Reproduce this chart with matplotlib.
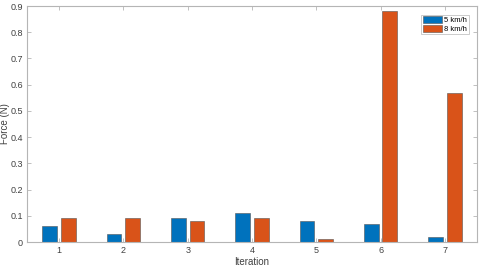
import matplotlib
matplotlib.use("Agg")
import matplotlib.pyplot as plt
import numpy as np

iterations = [1, 2, 3, 4, 5, 6, 7]
force_5kmh = [0.06, 0.03, 0.09, 0.11, 0.08, 0.07, 0.02]
force_8kmh = [0.09, 0.09, 0.08, 0.09, 0.01, 0.88, 0.57]
yticks = [0, 0.1, 0.2, 0.3, 0.4, 0.5, 0.6, 0.7, 0.8, 0.9]
ytick_labels = ["0", "0.1", "0.2", "0.3", "0.4", "0.5", "0.6", "0.7", "0.8", "0.9"]

plt.rcParams['font.family'] = ['Liberation Sans', 'DejaVu Sans']

fig = plt.figure(figsize=(4.8, 2.66), dpi=100)
ax = fig.add_axes([27/480, 1-242/266, 450/480, 236/266])

x = np.array(iterations)
w = 0.23
ax.bar(x - 0.145, force_5kmh, w, color='#0072BD', edgecolor='#555555', linewidth=0.4, label='5 km/h')
ax.bar(x + 0.145, force_8kmh, w, color='#D95319', edgecolor='#555555', linewidth=0.4, label='8 km/h')

spine_c = '#b5b5b5'
text_c = '#404040'
ax.set_xlim(0.5, 7.5)
ax.set_ylim(0, 0.9)
ax.set_xticks(iterations)
ax.set_yticks(yticks)
ax.set_yticklabels(ytick_labels)
ax.tick_params(direction='in', length=3, width=0.6, labelsize=6.5, color=spine_c,
               labelcolor=text_c, top=True, right=True, pad=3)
for s in ax.spines.values():
    s.set_color(spine_c)
    s.set_linewidth(0.8)
ax.set_xlabel('Iteration', fontsize=7, color=text_c)
ax.set_ylabel('Force (N)', fontsize=7, color=text_c)
ax.xaxis.set_label_coords(0.5, -0.062)
ax.yaxis.set_label_coords(-0.037, 0.5)

leg = ax.legend(loc='upper right', fontsize=5.5, frameon=True, fancybox=False,
                edgecolor=spine_c, handlelength=2.5, handleheight=1.0,
                borderpad=0.2, labelspacing=0.1, handletextpad=0.3,
                bbox_to_anchor=(0.99, 0.98))
leg.get_frame().set_linewidth(0.6)

fig.savefig('out.png', dpi=100)
